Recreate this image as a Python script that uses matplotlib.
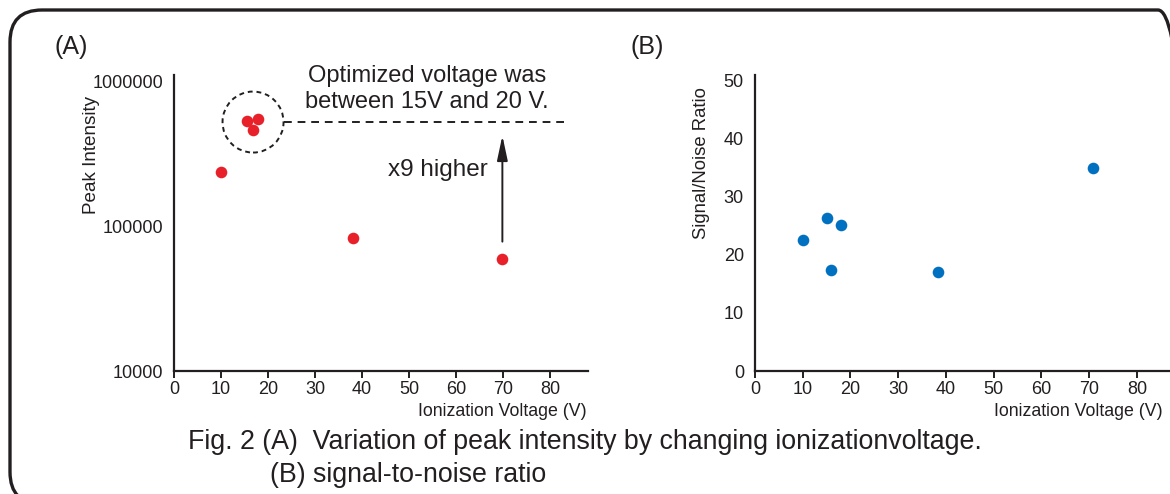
import matplotlib
matplotlib.use("Agg")
import matplotlib.pyplot as plt
from matplotlib.patches import Circle, FancyBboxPatch
from matplotlib.transforms import ScaledTranslation

plt.rcParams['font.family'] = ['Liberation Sans', 'DejaVu Sans']

# data
volt_a = [10, 15.5, 17.8, 16.7, 38, 69.8]
peak_intensity = [235000, 530000, 547000, 459000, 82600, 59200]

volt_b = [10, 15, 18, 16, 38.4, 70.8]
snr = [22.6, 26.4, 25.2, 17.4, 17.1, 35.0]

x_ticks = [0, 10, 20, 30, 40, 50, 60, 70, 80]
a_yticks = [10000, 100000, 1000000]
b_yticks = [0, 10, 20, 30, 40, 50]

W, H = 1170, 494
ink = '#231F20'
red = '#E8202A'
blue = '#0070C0'

fig = plt.figure(figsize=(W / 100, H / 100), dpi=100)


def fx(px):
    return px / W


def fy(py):
    return 1 - py / H


# rounded frame around the whole figure (right/bottom run off the page), in inches
frame = FancyBboxPatch((0.10, -0.10), 11.80, 4.94,
                       boxstyle="round,pad=0,rounding_size=0.32",
                       transform=fig.dpi_scale_trans, fill=False,
                       ec=ink, lw=2.4, clip_on=False)
fig.patches.append(frame)


def style_axes(ax):
    for s in ['top', 'right']:
        ax.spines[s].set_visible(False)
    for s in ['left', 'bottom']:
        ax.spines[s].set_linewidth(1.6)
        ax.spines[s].set_color(ink)
    ax.tick_params(axis='x', direction='out', length=5, width=1.4, color=ink,
                   labelsize=13, labelcolor=ink, pad=2)
    ax.tick_params(axis='y', length=0, labelsize=13, labelcolor=ink, pad=8)
    ax.tick_params(axis='y', which='minor', length=0)
    ax.set_xlim(0, 88)
    ax.set_xticks(x_ticks)
    ax.patch.set_alpha(0)


# ---- panel A ----
axA = fig.add_axes([fx(174), fy(371), fx(588) - fx(174), fy(75) - fy(371)])
style_axes(axA)
axA.set_yscale('log')
axA.set_ylim(10000, 1.1e6)
axA.set_yticks(a_yticks)
axA.set_yticklabels([str(v) for v in a_yticks])
axA.yaxis.set_minor_locator(matplotlib.ticker.NullLocator())
axA.scatter(volt_a, peak_intensity, s=70, color=red, zorder=3, linewidths=0)

# dashed circle around the optimum cluster
circ = Circle((0, 0), radius=0.305, fill=False, ec=ink, lw=1.4, ls=(0, (2.5, 2)),
              transform=fig.dpi_scale_trans + ScaledTranslation(16.8, 521000, axA.transData),
              clip_on=False)
axA.add_patch(circ)
axA.plot([23.4, 83.2], [521000, 521000], color=ink, lw=1.4, ls=(0, (4, 3)), clip_on=False)
axA.annotate('', xy=(69.8, 420000), xytext=(69.8, 78000),
             arrowprops=dict(arrowstyle='-|>,head_length=1.5,head_width=0.32',
                             color=ink, lw=1.4, shrinkA=0, shrinkB=0))
axA.text(56, 243000, 'x9 higher', fontsize=17.5, color=ink, ha='center', va='center')
fig.text(fx(427), fy(89), 'Optimized voltage was\nbetween 15V and 20 V.', fontsize=17,
         color=ink, ha='center', va='center', linespacing=1.28)
fig.text(fx(587), fy(411), 'Ionization Voltage (V)', fontsize=12.8, color=ink,
         ha='right', va='center')
fig.text(fx(92), fy(155), 'Peak Intensity', fontsize=13.6, color=ink, rotation=90,
         ha='center', va='center')
fig.text(fx(55), fy(47), '(A)', fontsize=18, color=ink, ha='left', va='center')

# ---- panel B ----
axB = fig.add_axes([fx(755), fy(371), fx(1175) - fx(755), fy(75) - fy(371)])
style_axes(axB)
axB.set_ylim(0, 51)
axB.set_yticks(b_yticks)
axB.scatter(volt_b, snr, s=70, color=blue, zorder=3, linewidths=0)
fig.text(fx(1163), fy(411), 'Ionization Voltage (V)', fontsize=12.8, color=ink,
         ha='right', va='center')
fig.text(fx(702), fy(163), 'Signal/Noise Ratio', fontsize=13.3, color=ink, rotation=90,
         ha='center', va='center')
fig.text(fx(630), fy(47), '(B)', fontsize=18, color=ink, ha='left', va='center')

# caption
fig.text(fx(188), fy(442), 'Fig. 2 (A)  Variation of peak intensity by changing ionizationvoltage.',
         fontsize=19.3, color=ink, ha='left', va='center')
fig.text(fx(270), fy(475), '(B) signal-to-noise ratio', fontsize=19.3, color=ink,
         ha='left', va='center')

fig.savefig('out.png', dpi=100)
